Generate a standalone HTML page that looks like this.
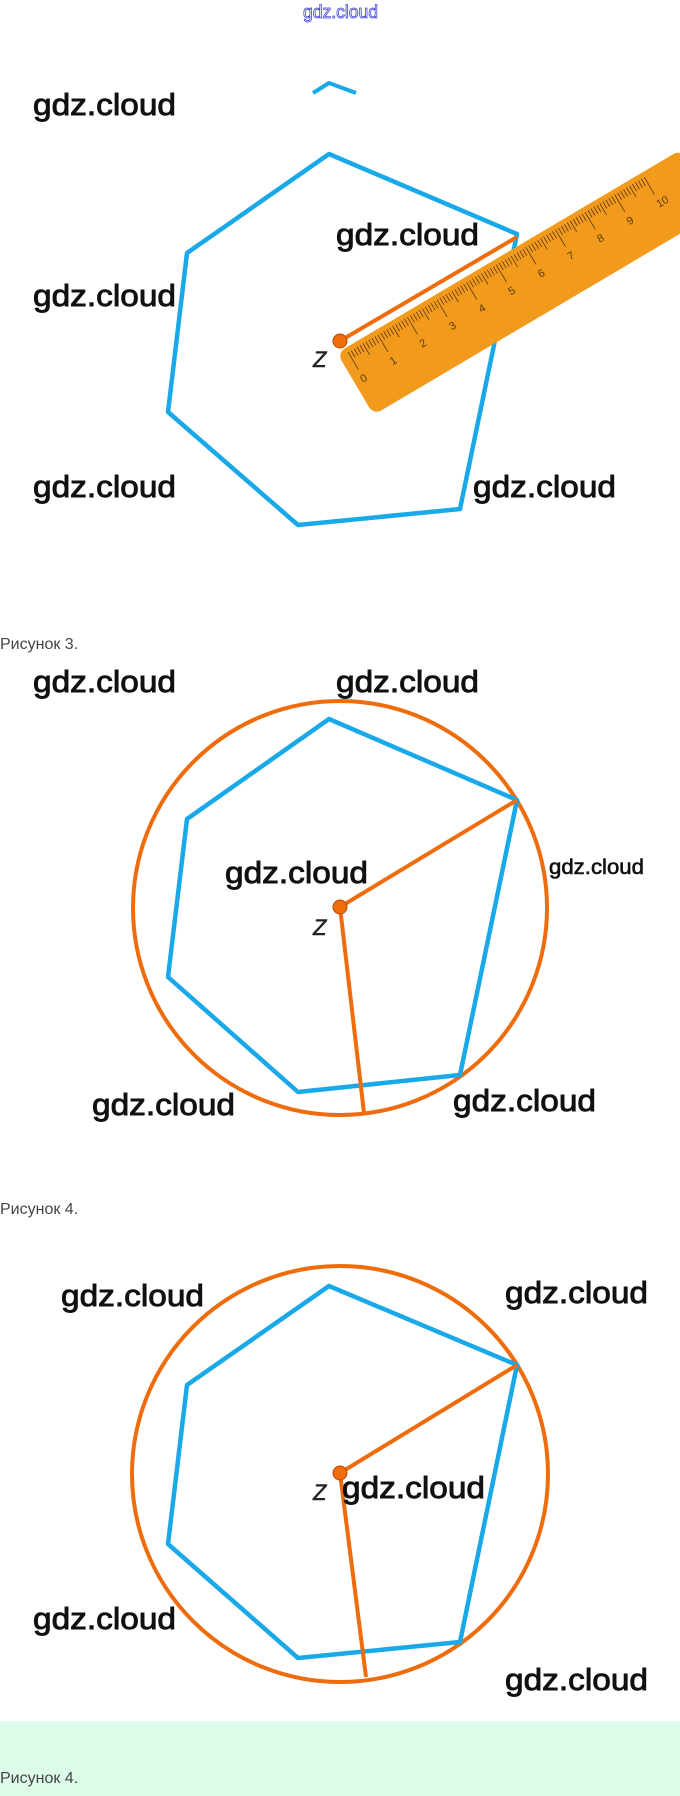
<!DOCTYPE html>
<html><head><meta charset="utf-8"><style>
html,body{margin:0;padding:0;background:#fff}
svg{display:block}
.w{font-family:"Liberation Sans",sans-serif;font-size:31px;fill:#111;stroke:#111;stroke-width:0.9px}
.cap{font-family:"Liberation Sans",sans-serif;font-size:16px;fill:#444}
.z{font-family:"Liberation Sans",sans-serif;font-size:22px;font-style:italic;fill:#222;stroke:#222;stroke-width:0.5px}
</style></head><body>
<svg width="680" height="1796" viewBox="0 0 680 1796" xmlns="http://www.w3.org/2000/svg">
<rect x="0" y="1721" width="680" height="75" fill="#dcfbe9"/>
<text x="303" y="18" font-family="Liberation Sans,sans-serif" font-size="18" fill="#fff" stroke="#3d3ddb" stroke-width="0.8" textLength="75" lengthAdjust="spacingAndGlyphs">gdz.cloud</text>

<!-- Figure 1 -->
<polyline points="313,93 329,83 356,93" fill="none" stroke="#1aa9e8" stroke-width="4"/>
<polygon points="329,154 517,234 460,509 298,525 168,412 187,253" fill="none" stroke="#1aa9e8" stroke-width="4.5" stroke-linejoin="round"/>
<line x1="340" y1="341" x2="517" y2="237" stroke="#ef6c0c" stroke-width="4"/>
<g transform="translate(337,353) rotate(-30.6)">
<rect x="0" y="0" width="400" height="72" rx="9" fill="#f29a1c"/>
<g stroke="#5a3a10" stroke-width="0.8" id="ticks">
</g>
</g>
<circle cx="340" cy="341" r="7" fill="#ef6c0c" stroke="#b84a05" stroke-width="1"/>
<text class="z" x="313" y="367">Z</text>
<text class="w" x="33" y="115" textLength="143" lengthAdjust="spacingAndGlyphs">gdz.cloud</text>
<text class="w" x="33" y="306" textLength="143" lengthAdjust="spacingAndGlyphs">gdz.cloud</text>
<text class="w" x="33" y="497" textLength="143" lengthAdjust="spacingAndGlyphs">gdz.cloud</text>
<text class="w" x="336" y="245" textLength="143" lengthAdjust="spacingAndGlyphs">gdz.cloud</text>
<text class="w" x="473" y="497" textLength="143" lengthAdjust="spacingAndGlyphs">gdz.cloud</text>

<!-- Figure 2 -->
<text class="cap" x="0" y="649">Рисунок 3.</text>
<circle cx="340" cy="908" r="207" fill="none" stroke="#ef6c0c" stroke-width="4"/>
<polygon points="329,719 517,800 460,1075 298,1092 168,977 187,819" fill="none" stroke="#1aa9e8" stroke-width="4.5" stroke-linejoin="round"/>
<line x1="340" y1="907" x2="517" y2="800" stroke="#ef6c0c" stroke-width="4"/>
<line x1="340" y1="907" x2="364" y2="1113" stroke="#ef6c0c" stroke-width="4"/>
<circle cx="340" cy="907" r="7" fill="#ef6c0c" stroke="#b84a05" stroke-width="1"/>
<text class="z" x="313" y="935">Z</text>
<text class="w" x="33" y="692" textLength="143" lengthAdjust="spacingAndGlyphs">gdz.cloud</text>
<text class="w" x="336" y="692" textLength="143" lengthAdjust="spacingAndGlyphs">gdz.cloud</text>
<text class="w" x="225" y="883" textLength="143" lengthAdjust="spacingAndGlyphs">gdz.cloud</text>
<text class="w" x="549" y="874" style="font-size:21px;stroke-width:0.6px" textLength="95" lengthAdjust="spacingAndGlyphs">gdz.cloud</text>
<text class="w" x="92" y="1115" textLength="143" lengthAdjust="spacingAndGlyphs">gdz.cloud</text>
<text class="w" x="453" y="1111" textLength="143" lengthAdjust="spacingAndGlyphs">gdz.cloud</text>

<!-- Figure 3 -->
<text class="cap" x="0" y="1214">Рисунок 4.</text>
<circle cx="340" cy="1474" r="208" fill="none" stroke="#ef6c0c" stroke-width="4"/>
<polygon points="329,1286 517,1365 460,1642 298,1658 168,1544 187,1385" fill="none" stroke="#1aa9e8" stroke-width="4.5" stroke-linejoin="round"/>
<line x1="340" y1="1473" x2="517" y2="1365" stroke="#ef6c0c" stroke-width="4"/>
<line x1="340" y1="1473" x2="366" y2="1677" stroke="#ef6c0c" stroke-width="4"/>
<circle cx="340" cy="1473" r="7" fill="#ef6c0c" stroke="#b84a05" stroke-width="1"/>
<text class="z" x="313" y="1500">Z</text>
<text class="w" x="61" y="1306" textLength="143" lengthAdjust="spacingAndGlyphs">gdz.cloud</text>
<text class="w" x="505" y="1303" textLength="143" lengthAdjust="spacingAndGlyphs">gdz.cloud</text>
<text class="w" x="342" y="1498" textLength="143" lengthAdjust="spacingAndGlyphs">gdz.cloud</text>
<text class="w" x="33" y="1629" textLength="143" lengthAdjust="spacingAndGlyphs">gdz.cloud</text>
<text class="w" x="505" y="1690" textLength="143" lengthAdjust="spacingAndGlyphs">gdz.cloud</text>

<text class="cap" x="0" y="1783">Рисунок 4.</text>
</svg>
<script>
(function(){
var g=document.getElementById('ticks'),s='';
for(var i=0;i<=100;i++){var u=10+i*3.44;var L=i%10==0?20:(i%5==0?13:8);
s+='<line x1="'+u.toFixed(2)+'" y1="5" x2="'+u.toFixed(2)+'" y2="'+(5+L)+'"/>';
if(i%10==0){s+='<text x="'+(u-3).toFixed(2)+'" y="39" font-family="Liberation Sans,sans-serif" font-size="11" fill="#5a3a10" stroke="none">'+(i/10)+'</text>';}}
g.innerHTML=s;})();
</script>
</body></html>
